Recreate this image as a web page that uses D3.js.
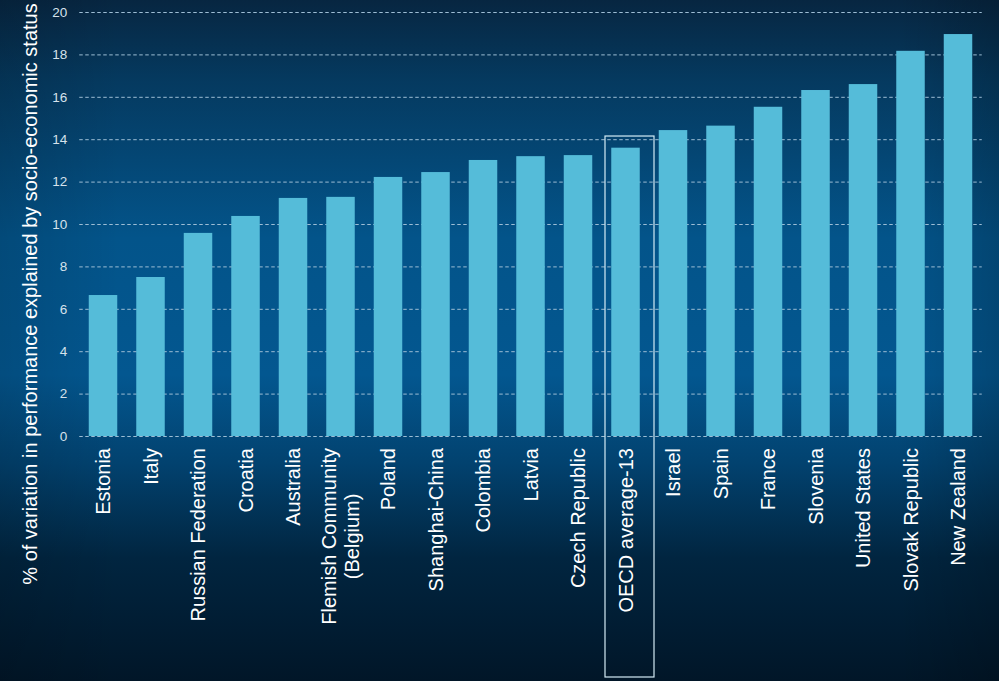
<!DOCTYPE html>
<html>
<head>
<meta charset="utf-8">
<script src="https://cdn.jsdelivr.net/npm/d3@7"></script>
<style>
  html, body { margin: 0; padding: 0; background: #02335a; }
  svg { display: block; font-family: "Liberation Sans", Arial, sans-serif; }
</style>
</head>
<body>
<svg id="chart" width="999" height="681"></svg>
<script>
// countries, in the order they appear on the chart
const countries = ["Estonia", "Italy", "Russian Federation", "Croatia", "Australia",
  "Flemish Community\n(Belgium)", "Poland", "Shanghai-China", "Colombia", "Latvia",
  "Czech Republic", "OECD average-13", "Israel", "Spain", "France", "Slovenia",
  "United States", "Slovak Republic", "New Zealand"];

// % of variation explained by socio-economic status
const values = [6.65, 7.5, 9.58, 10.38, 11.23, 11.28, 12.22, 12.45, 13.02, 13.2,
  13.25, 13.6, 14.43, 14.64, 15.53, 16.32, 16.6, 18.17, 18.96];

const yTicks = [0, 2, 4, 6, 8, 10, 12, 14, 16, 18, 20];
const highlighted = "OECD average-13";
const yTitle = "% of variation in performance explained by socio-economic status";

const W = 999, H = 681;
const plotLeft = 79.25, plotRight = 981.75, plotTop = 12, plotBottom = 436;

const svg = d3.select("#chart");

// background gradients
const defs = svg.append("defs");
const bg = defs.append("linearGradient").attr("id", "bg")
  .attr("x1", 0).attr("y1", 0).attr("x2", 0).attr("y2", 1);
[[0, "#072641"], [0.12, "#053a60"], [0.35, "#03548a"], [0.55, "#035790"],
 [0.68, "#02426f"], [0.82, "#012540"], [1, "#011628"]]
  .forEach(s => bg.append("stop").attr("offset", s[0]).attr("stop-color", s[1]));
const side = defs.append("linearGradient").attr("id", "side")
  .attr("x1", 0).attr("y1", 0).attr("x2", 1).attr("y2", 0);
[[0, "rgba(0,0,0,0.12)"], [0.12, "rgba(0,0,0,0)"], [0.9, "rgba(0,0,0,0)"], [1, "rgba(0,0,0,0.18)"]]
  .forEach(s => side.append("stop").attr("offset", s[0]).attr("stop-color", s[1]));

svg.append("rect").attr("width", W).attr("height", H).attr("fill", "url(#bg)");
svg.append("rect").attr("width", W).attr("height", H).attr("fill", "url(#side)");

// scales
const x = d3.scaleBand().domain(countries).range([plotLeft, plotRight])
  .paddingInner(0.4).paddingOuter(0.2);
const y = d3.scaleLinear().domain([0, 20]).range([plotBottom, plotTop]);

// gridlines + tick labels
const yAxis = svg.append("g")
  .attr("transform", "translate(" + plotLeft + ",0)")
  .call(d3.axisLeft(y).tickValues(yTicks).tickSize(-(plotRight - plotLeft)).tickPadding(12));
yAxis.select(".domain").remove();
yAxis.selectAll(".tick line")
  .attr("stroke", "#9dbdd4")
  .attr("stroke-dasharray", "3.5,2.5");
yAxis.selectAll(".tick text")
  .attr("fill", "#d6e2ec")
  .style("font-size", "13.5px")
  .style("font-family", "'Liberation Sans', Arial, sans-serif");

// bars
svg.append("g").selectAll("rect").data(countries).enter().append("rect")
  .attr("x", d => x(d))
  .attr("width", x.bandwidth())
  .attr("y", (d, i) => y(values[i]))
  .attr("height", (d, i) => y(0) - y(values[i]))
  .attr("fill", "#55bcd9");

// category labels, rotated, top-aligned under the axis
const labelTop = 448;
const labels = svg.append("g");
countries.forEach(c => {
  const lines = c.split("\n");
  const cx = x(c) + x.bandwidth() / 2;
  if (lines.length === 1) {
    labels.append("text")
      .attr("transform", "translate(" + cx + "," + labelTop + ") rotate(-90)")
      .attr("text-anchor", "end")
      .attr("dy", "0.35em")
      .attr("fill", "#ffffff")
      .style("font-size", "20px")
      .text(c);
  } else {
    const lh = 23;
    const nodes = lines.map(l => labels.append("text")
      .attr("text-anchor", "middle")
      .attr("dy", "0.35em")
      .attr("fill", "#ffffff")
      .style("font-size", "20px")
      .text(l));
    const maxW = d3.max(nodes, n => n.node().getComputedTextLength());
    nodes.forEach((n, k) => {
      const lx = cx + (k - (lines.length - 1) / 2) * lh;
      n.attr("transform", "translate(" + lx + "," + (labelTop + maxW / 2) + ") rotate(-90)");
    });
  }
});

// box around the OECD average
const hx = x(highlighted) + x.bandwidth() / 2;
svg.append("rect")
  .attr("x", hx - 20.5)
  .attr("y", y(14.15))
  .attr("width", 49)
  .attr("height", 677 - y(14.15))
  .attr("fill", "none")
  .attr("stroke", "#d4ecf6")
  .attr("stroke-width", 1.2);

// y axis title
svg.append("text")
  .attr("transform", "translate(37," + 294 + ") rotate(-90)")
  .attr("text-anchor", "middle")
  .attr("fill", "#ffffff")
  .style("font-size", "20px")
  .text(yTitle);
</script>
</body>
</html>
